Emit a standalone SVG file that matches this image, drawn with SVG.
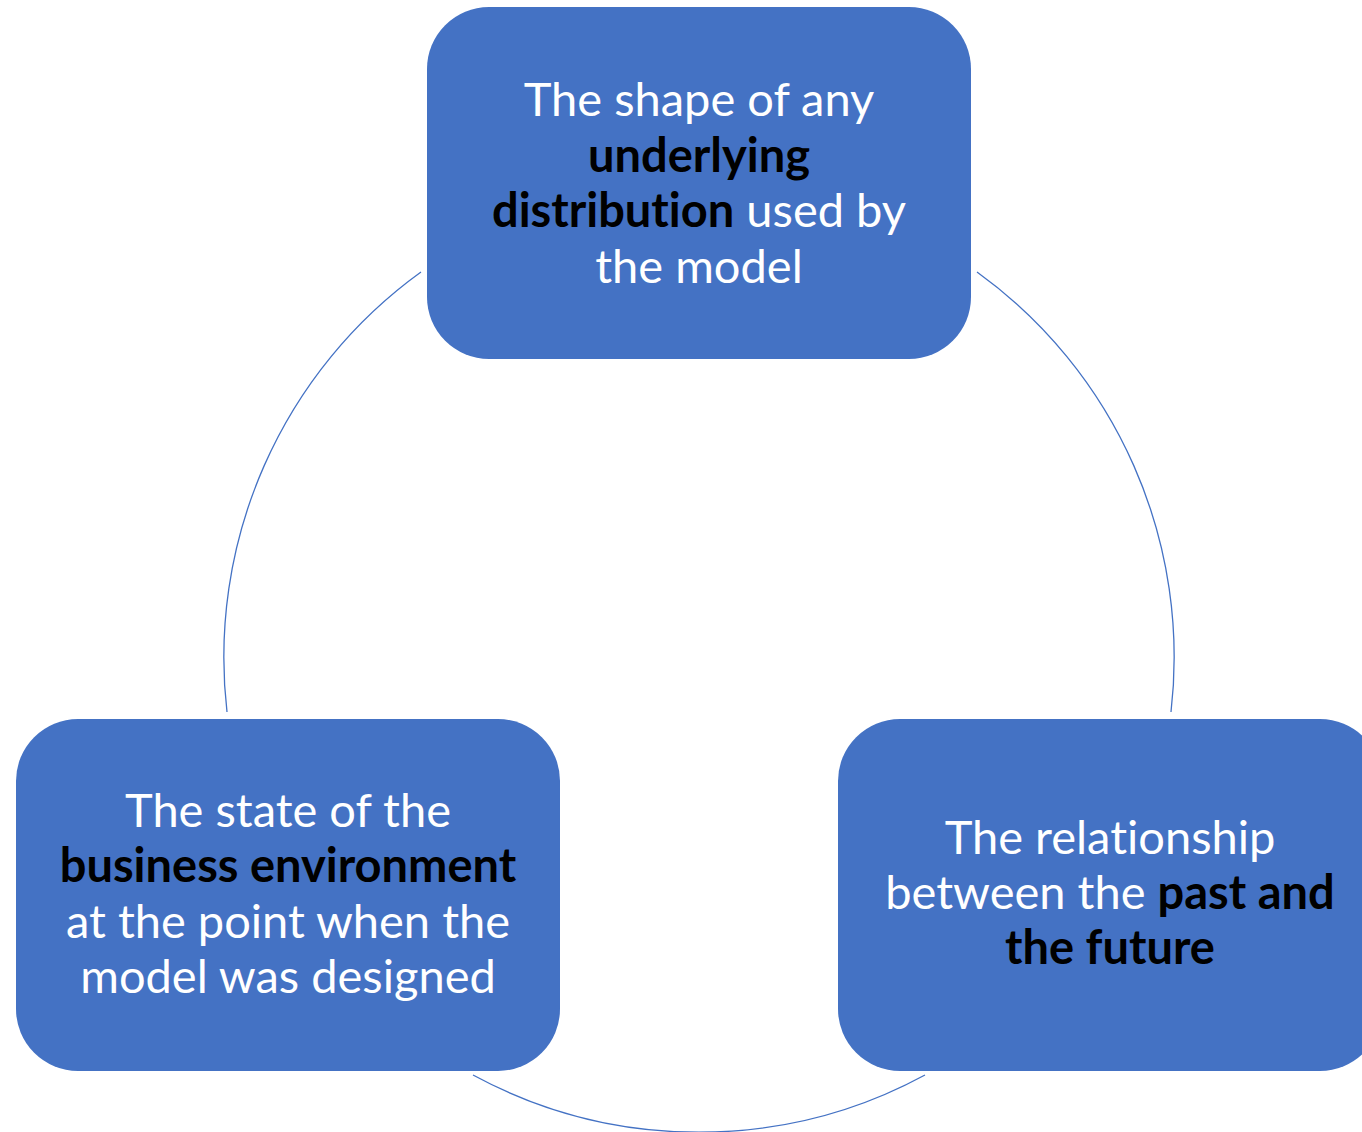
<svg xmlns="http://www.w3.org/2000/svg" width="1362" height="1132" viewBox="0 0 1362 1132">
<style>
.box{fill:#4472C4;}
.arc{fill:none;stroke:#4472C4;stroke-width:1.3;}
.t{font-family:Lato,"Open Sans",sans-serif;font-size:47px;fill:#FFFFFF;text-anchor:middle;font-variant-ligatures:none;font-feature-settings:"liga" 0;}
.b{font-weight:bold;fill:#000000;}
</style>
<rect width="1362" height="1132" fill="#FFFFFF"/>
<g id="connectors">
<path class="arc" d="M977,272 A475,475 0 0 1 1171,712"/>
<path class="arc" d="M925,1075 A475,475 0 0 1 473,1075"/>
<path class="arc" d="M227,712 A475,475 0 0 1 421,272"/>
</g>
<g id="node-top">
<rect class="box" x="427" y="7" width="544" height="352" rx="62" ry="62"/>
<text class="t" x="699" y="116">The shape of any</text>
<text class="t" x="699" y="172"><tspan class="b">underlying</tspan></text>
<text class="t" x="699" y="227"><tspan class="b">distribution</tspan> used by</text>
<text class="t" x="699" y="283">the model</text>
</g>
<g id="node-left">
<rect class="box" x="16" y="719" width="544" height="352" rx="62" ry="62"/>
<text class="t" x="288" y="827">The state of the</text>
<text class="t" x="288" y="882"><tspan class="b">business environment</tspan></text>
<text class="t" x="288" y="938">at the point when the</text>
<text class="t" x="288" y="993">model was designed</text>
</g>
<g id="node-right">
<rect class="box" x="838" y="719" width="544" height="352" rx="62" ry="62"/>
<text class="t" x="1110" y="854">The relationship</text>
<text class="t" x="1110" y="909">between the <tspan class="b">past and</tspan></text>
<text class="t" x="1110" y="964"><tspan class="b">the future</tspan></text>
</g>
</svg>
